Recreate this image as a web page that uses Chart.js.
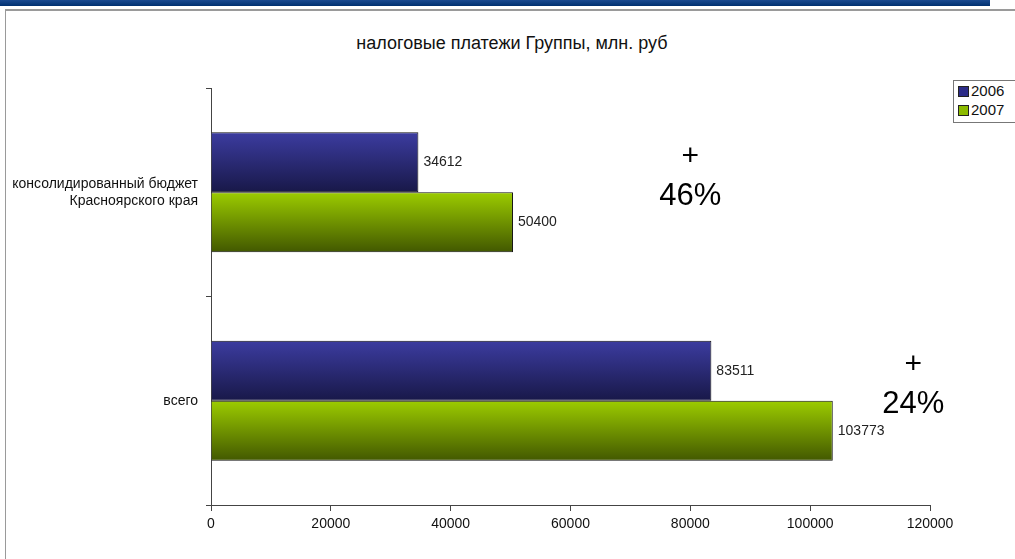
<!DOCTYPE html>
<html>
<head>
<meta charset="utf-8">
<script src="https://cdn.jsdelivr.net/npm/chart.js@4/dist/chart.umd.min.js"></script>
<style>
  body { margin: 0; background: #fff; overflow: hidden; }
  #wrap { position: relative; width: 1015px; height: 559px; }
  #topbar { position: absolute; left: 0; top: 0; width: 990px; height: 6px; background: linear-gradient(#1a4a90, #003070); }
  #frame { position: absolute; left: 5px; top: 9px; width: 1015px; height: 560px; border-top: 2px solid #9a9a9a; border-left: 1px solid #9a9a9a; }
  #title { position: absolute; left: 0; width: 1024px; top: 33px; text-align: center; font: 18px "Liberation Sans", Arial, sans-serif; color: #111; }
  #legend { position: absolute; left: 953px; top: 80px; width: 80px; height: 41px; border: 1px solid #777; background: #fff; font: 15px "Liberation Sans", sans-serif; color: #111; }
  #legend div { height: 19px; line-height: 19px; padding-left: 4px; white-space: nowrap; }
  #legend span { display: inline-block; width: 9px; height: 9px; border: 1px solid #222; margin-right: 2px; vertical-align: -1px; }
  canvas { position: absolute; left: 0; top: 0; }
</style>
</head>
<body>
<div id="wrap">
  <div id="topbar"></div>
  <div id="frame"></div>
  <div id="title">налоговые платежи Группы, млн. руб</div>
  <canvas id="chart" width="1015" height="559"></canvas>
  <div id="legend"></div>
</div>
<script>
const categories = [["консолидированный бюджет", "Красноярского края"], "всего"];
const years = ["2006", "2007"];
const values2006 = [34612, 83511];
const values2007 = [50400, 103773];
const growthLabels = ["46%", "24%"];
const growthX = [80000, 117200];

const gradColors = [["#3c3ca0", "#181848"], ["#9ccc00", "#425800"]];
const legendColors = ["#2c2c88", "#8cbb00"];

const FONT = "'Liberation Sans', Arial, sans-serif";

const legend = document.getElementById("legend");
years.forEach((y, i) => {
    const d = document.createElement("div");
    d.innerHTML = '<span style="background:' + legendColors[i] + '"></span>' + y;
    legend.appendChild(d);
});

const barStyle = {
    id: "barStyle",
    beforeDatasetsDraw(chart) {
        const ctx = chart.ctx;
        chart.data.datasets.forEach((ds, di) => {
            const meta = chart.getDatasetMeta(di);
            meta.data.forEach(el => {
                const top = el.y - el.height / 2;
                const g = ctx.createLinearGradient(0, top, 0, top + el.height);
                g.addColorStop(0, gradColors[di][0]);
                g.addColorStop(1, gradColors[di][1]);
                el.options.backgroundColor = g;
            });
        });
    },
    afterDatasetsDraw(chart) {
        const ctx = chart.ctx;
        ctx.save();
        ctx.fillStyle = "#222";
        ctx.font = "14px " + FONT;
        ctx.textBaseline = "middle";
        chart.data.datasets.forEach((ds, di) => {
            chart.getDatasetMeta(di).data.forEach((el, i) => {
                ctx.fillText(ds.data[i], el.x + 5, el.y);
            });
        });
        // growth annotations
        const xs = chart.scales.x, ys = chart.scales.y;
        ctx.fillStyle = "#000";
        ctx.textAlign = "center";
        growthLabels.forEach((lbl, i) => {
            const cx = xs.getPixelForValue(growthX[i]);
            const cy = ys.getPixelForValue(i);
            ctx.font = "30px " + FONT;
            ctx.fillText("+", cx, cy - 36);
            ctx.font = "31px " + FONT;
            ctx.fillText(lbl, cx, cy + 4);
        });
        ctx.restore();
    }
};

// scriptable colour so every bar gets its own options object
const barColor = c => legendColors[c.datasetIndex];

new Chart(document.getElementById("chart"), {
    type: "bar",
    data: {
        labels: categories,
        datasets: [
            { label: years[0], data: values2006, backgroundColor: barColor, borderColor: "#111", borderWidth: 1, borderSkipped: "start" },
            { label: years[1], data: values2007, backgroundColor: barColor, borderColor: "#111", borderWidth: 1, borderSkipped: "start" }
        ]
    },
    options: {
        indexAxis: "y",
        responsive: false,
        animation: false,
        layout: { padding: { left: 0, top: 88, right: 85, bottom: 0 } },
        plugins: { legend: { display: false }, tooltip: { enabled: false }, title: { display: false } },
        datasets: { bar: { categoryPercentage: 0.575, barPercentage: 1 } },
        scales: {
            x: {
                min: 0, max: 120000,
                ticks: { stepSize: 20000, color: "#111", font: { family: FONT, size: 14 }, padding: 5,
                         callback: v => String(v) },
                grid: { drawOnChartArea: false, drawTicks: true, tickLength: 6, color: "#444" },
                border: { color: "#444", width: 1 },
                afterFit(s) { s.height = 54; }
            },
            y: {
                ticks: { color: "#111", font: { family: FONT, size: 14 }, padding: 8 },
                grid: { drawOnChartArea: false, drawTicks: true, tickLength: 5, offset: true, color: "#444" },
                border: { color: "#444", width: 1 },
                afterFit(s) { s.width = 211; }
            }
        }
    },
    plugins: [barStyle]
});
</script>
</body>
</html>
